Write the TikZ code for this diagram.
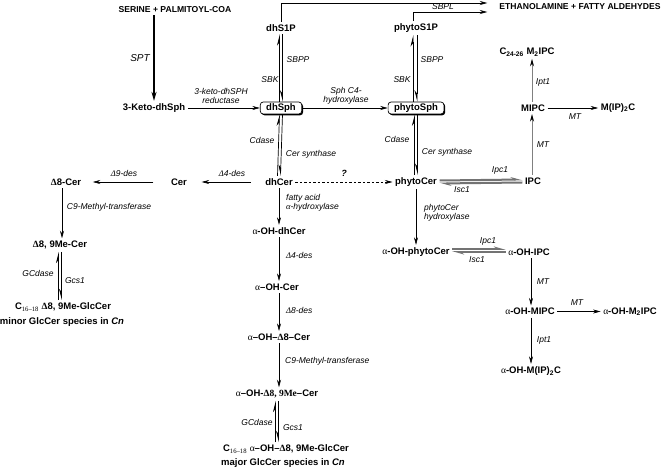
\documentclass[tikz,border=0pt]{standalone}
\usepackage{fontspec}
\setmainfont{Liberation Sans}
\newfontfamily\grk{Liberation Serif}
\usetikzlibrary{arrows.meta,shadows,calc}
\newcommand{\al}{{\grk\mdseries α}}
\newcommand{\De}{{\grk\bfseries Δ}}
\newcommand{\Di}{{\grk\itshape Δ}}
\tikzset{
  cmp/.style={font=\fontsize{9.5}{11}\selectfont\bfseries, inner sep=2.5pt},
  capn/.style={font=\fontsize{8.6}{10}\selectfont\bfseries, inner sep=2pt},
  lab/.style={font=\fontsize{8.5}{9.5}\selectfont\itshape, inner sep=1pt},
  arr/.style={-{Stealth[length=7.5pt,width=4pt]}, line width=0.6pt},
  harpu/.style={-{Stealth[length=10pt,width=5pt,harpoon]}, line width=0.7pt},
  harpd/.style={-{Stealth[length=10pt,width=5pt,harpoon,swap]}, line width=0.7pt},
  harpg/.style={-{Stealth[length=9pt,width=5pt,harpoon]}, line width=2pt, draw=black!55},
  arrg/.style={-{Stealth[length=7.5pt,width=4pt,color=black]}, line width=0.8pt, draw=black!50},
  boxed/.style={cmp, draw, rounded corners=3pt, fill=white, line width=0.7pt,
    inner xsep=6pt, inner ysep=1.5pt, minimum height=12pt,
    general shadow={fill=black, shadow xshift=1.3pt, shadow yshift=-1.3pt}},
}
\begin{document}
\begin{tikzpicture}[x=1pt,y=-1pt]
\useasboundingbox[fill=white] (0,0) rectangle (664,470);

% ---- compounds
\node[capn] (serine) at (175,10) {SERINE + PALMITOYL-COA};
\node[capn] (eth) at (580,7) {ETHANOLAMINE + FATTY ALDEHYDES};
\node[cmp] (keto) at (154,108) {3-Keto-dhSph};
\node[cmp] (dhS1P) at (281,28) {dhS1P};
\node[boxed] (dhSph) at (281,108) {dhSph};
\node[cmp] (phytoS1P) at (416,28) {phytoS1P};
\node[boxed] (phytoSph) at (416,108) {phytoSph};
\node[cmp] (dhCer) at (279,182) {dhCer};
\node[cmp] (phytoCer) at (416,182) {phytoCer};
\node[cmp] (cer) at (179,182) {Cer};
\node[cmp] (d8cer) at (66,182) {\De8-Cer};
\node[cmp] (d89) at (60,245) {\De8, 9Me-Cer};
\node[cmp] (glcmin) at (63,307) {C\textsubscript{\grk\mdseries 16–18} \De8, 9Me-GlcCer};
\node[cmp] (glcminb) at (62,322) {minor GlcCer species in \textit{Cn}};
\node[cmp] (aohdh) at (279,231) {\al-OH-dhCer};
\node[cmp] (aohcer) at (277,287) {\al–OH-Cer};
\node[cmp] (aohd8) at (279,337) {\al–OH–\De8–Cer};
\node[cmp] (aoh89) at (277,394) {\al–OH-{\grk\bfseries Δ8, 9Me}–Cer};
\node[cmp] (glcmaj) at (286,449) {C\textsubscript{\grk\mdseries 16–18} \al–OH–\De8, 9Me-GlcCer};
\node[cmp] (glcmajb) at (283,463) {major GlcCer species in \textit{Cn}};
\node[cmp] (aohphyto) at (416,252) {\al-OH-phytoCer};
\node[cmp] (ipc) at (533,181) {IPC};
\node[cmp] (mipc) at (533,108) {MIPC};
\node[cmp] (mip2c) at (618,108) {M(IP)\textsubscript{2}C};
\node[cmp] (m2ipc) at (527,52) {C\textsubscript{24-26} M\textsubscript{2}IPC};
\node[cmp] (aohipc) at (529,252) {\al-OH-IPC};
\node[cmp] (aohmipc) at (530,311.5) {\al-OH-MIPC};
\node[cmp] (aohm2ipc) at (630,311.5) {\al-OH-M\textsubscript{2}IPC};
\node[cmp] (aohmip2c) at (531,371) {\al-OH-M(IP)\textsubscript{2}C};

% ---- connectors
\draw[-{Stealth[length=9pt,width=5pt]}, line width=1.8pt] (keto.north |- serine.south) -- (keto.north);
\node[lab] (lspt) at (140,58) {\fontsize{10}{11}\selectfont SPT};

\draw[arr] (keto.east) -- (dhSph.west);
\node[lab, align=center] (lred) at (221,96) {3-keto-dhSPH\\reductase};
\draw[arr] (dhSph.east) -- (phytoSph.west);
\node[lab, align=center] (lc4) at (346,96) {Sph C4-\\hydroxylase};

\draw[harpu] ([xshift=-1.5pt]dhSph.north) -- ([xshift=-1.5pt]dhS1P.south);
\draw[harpd] ([xshift=1.5pt]dhS1P.south) -- ([xshift=1.5pt]dhSph.north);
\node[lab] (l1) at (298,60) {SBPP};
\node[lab] (l2) at (270,80) {SBK};

\draw[harpu] ([xshift=-3pt]phytoSph.north) -- ([xshift=-3pt]phytoS1P.south);
\draw[harpd] ([xshift=1pt]phytoS1P.south) -- ([xshift=1pt]phytoSph.north);
\node[lab] (l3) at (432,60) {SBPP};
\node[lab] (l4) at (402,80) {SBK};

\draw[arr] (dhS1P.north) |- ([yshift=4pt,xshift=-10pt]eth.west);
\draw[arr] ([xshift=-3pt]phytoS1P.north) |- ([yshift=-5pt,xshift=-10pt]eth.west);
\node[lab] (lsbpl) at (443,7) {SBPL};

\draw[harpu] ([xshift=-1.5pt]dhCer.north) -- ([xshift=-1.5pt]dhSph.south);
\draw[harpd] ([xshift=1.5pt]dhSph.south) -- ([xshift=1.5pt]dhCer.north);
\node[lab] (l5) at (262,140) {Cdase};
\node[lab] (l6) at (311,154) {Cer synthase};

\draw[harpu] ([xshift=-1.5pt]phytoCer.north) -- ([xshift=-1.5pt]phytoSph.south);
\draw[harpd] ([xshift=1.5pt]phytoSph.south) -- ([xshift=1.5pt]phytoCer.north);
\node[lab] (l7) at (397,139) {Cdase};
\node[lab] (l8) at (447,152) {Cer synthase};

\draw[arr, dash pattern=on 2.5pt off 2pt] (dhCer.east) -- (phytoCer.west);
\node[lab, font=\fontsize{9}{10}\selectfont\bfseries\itshape] (lq) at (344,173) {?};

\draw[arr, shorten <=12pt, shorten >=12pt] (dhCer.west) -- (cer.east);
\node[lab] (l9) at (232,173) {\Di4-des};
\draw[arr, shorten <=15pt, shorten >=9pt] (cer.west) -- (d8cer.east);
\node[lab] (l10) at (124,173) {\Di9-des};

\draw[arr] ($(d89.north |- d8cer.south)+(2,0)$) -- ($(d89.north)+(2,0)$);
\node[lab] (l11) at (109,207) {C9-Methyl-transferase};
\draw[harpu] ($(d89.south |- glcmin.north)+(-1.5,0)$) -- ($(d89.south)+(-1.5,0)$);
\draw[harpd] ($(d89.south)+(1.5,0)$) -- ($(d89.south |- glcmin.north)+(1.5,0)$);
\node[lab] (l12) at (38,273) {GCdase};
\node[lab] (l13) at (75,281) {Gcs1};

\draw[arr] (dhCer.south) -- (dhCer.south |- aohdh.north);
\node[lab, align=left, anchor=west] (l14) at (285,203) {fatty acid\\\al-hydroxylase};
\draw[arr] (aohdh.south) -- (aohdh.south |- aohcer.north);
\node[lab, anchor=west] (l15) at (285,255) {\Di4-des};
\draw[arr] (aohdh.south |- aohcer.south) -- (aohdh.south |- aohd8.north);
\node[lab, anchor=west] (l16) at (285,310) {\Di8-des};
\draw[arr] (aohdh.south |- aohd8.south) -- (aohdh.south |- aoh89.north);
\node[lab, anchor=west] (l17) at (284,361) {C9-Methyl-transferase};
\draw[harpu] ($(aoh89.south |- glcmaj.north)+(-1.5,0)$) -- ($(aoh89.south)+(-1.5,0)$);
\draw[harpd] ($(aoh89.south)+(1.5,0)$) -- ($(aoh89.south |- glcmaj.north)+(1.5,0)$);
\node[lab] (l18) at (257,422) {GCdase};
\node[lab] (l19) at (293,428) {Gcs1};

\draw[arr] (phytoCer.south) -- (aohphyto.north);
\node[lab, align=left, anchor=west] (l20) at (423,213) {phytoCer\\hydroxylase};

\draw[harpg] ([yshift=1.5pt]phytoCer.east) -- ([yshift=1.5pt]ipc.west);
\draw[harpg] ([yshift=-1.5pt]ipc.west) -- ([yshift=-1.5pt]phytoCer.east);
\node[lab] (l21) at (500,170) {Ipc1};
\node[lab] (l22) at (462,190) {Isc1};

\draw[arrg] ([xshift=-1pt]ipc.north) -- ([xshift=-1pt]mipc.south);
\node[lab] (l23) at (543,145) {MT};
\draw[arrg] ([xshift=-1pt]mipc.north) -- ([xshift=-1pt]mipc.north |- m2ipc.south);
\node[lab] (l24) at (543,82) {Ipt1};
\draw[arr] (mipc.east) -- (mip2c.west);
\node[lab] (l25) at (575,117) {MT};

\draw[harpg] ([yshift=3pt]aohphyto.east) -- ([yshift=3pt]aohipc.west);
\draw[harpg] ([yshift=0pt]aohipc.west) -- ([yshift=0pt]aohphyto.east);
\node[lab] (l26) at (488,241) {Ipc1};
\node[lab] (l27) at (477,260) {Isc1};

\draw[arr] ([xshift=2pt]aohipc.south) -- ([xshift=2pt]aohipc.south |- aohmipc.north);
\node[lab] (l28) at (543,282) {MT};
\draw[arr] (aohmipc.east) -- (aohm2ipc.west);
\node[lab] (l29) at (577,303) {MT};
\draw[arr] ([xshift=1pt]aohmipc.south) -- ([xshift=1pt]aohmipc.south |- aohmip2c.north);
\node[lab] (l30) at (544,340) {Ipt1};
\end{tikzpicture}
\end{document}
